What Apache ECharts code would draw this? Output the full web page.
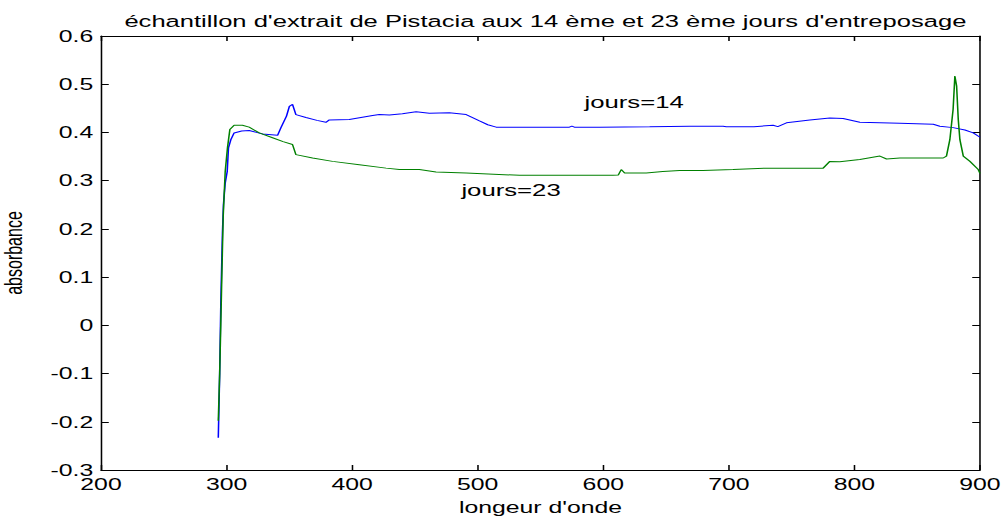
<!DOCTYPE html>
<html>
<head>
<meta charset="utf-8">
<script src="https://cdn.jsdelivr.net/npm/echarts@6/dist/echarts.min.js"></script>
<style>
html,body{margin:0;padding:0;background:#fff;overflow:hidden;width:1004px;height:518px}
#c{width:648px;height:518px;transform:scaleX(1.549383);transform-origin:0 0}
</style>
</head>
<body>
<div id="c"></div>
<script>
const titleText = "échantillon d'extrait de Pistacia aux 14 ème et 23 ème jours d'entreposage";
const xName = "longeur d'onde";
const yName = "absorbance";
const xTicks = [200, 300, 400, 500, 600, 700, 800, 900];
const yTicks = [-0.3, -0.2, -0.1, 0, 0.1, 0.2, 0.3, 0.4, 0.5, 0.6];
const label14 = "jours=14";
const label23 = "jours=23";
const label14Pos = [585, 0.4625];
const label23Pos = [487, 0.2806];

const jours14 = [
[293.4,-0.233],[294.5,-0.10],[295.4,0.046],[296.7,0.191],[297.5,0.25],[298.9,0.295],[300.5,0.319],[301.5,0.368],[303.4,0.385],[306,0.399],[312,0.403],[318,0.404],[328.6,0.397],[340.6,0.394],[343.3,0.410],[347.7,0.434],[350,0.454],[352.5,0.458],[355.2,0.437],[363.2,0.431],[372,0.425],[379.1,0.421],[381.8,0.426],[397.7,0.427],[416.3,0.435],[421.6,0.437],[429.6,0.436],[440,0.439],[450.9,0.443],[461.5,0.440],[477.4,0.441],[490.8,0.437],[501.4,0.424],[508,0.416],[514.7,0.411],[573,0.411],[575,0.413],[577,0.411],[597,0.411],[636.9,0.412],[668.8,0.413],[695.4,0.413],[698,0.412],[720,0.412],[735.2,0.415],[739,0.412],[745.9,0.420],[764.5,0.426],[780.4,0.430],[791,0.429],[804.3,0.421],[836.2,0.419],[862.8,0.417],[868,0.413],[878.6,0.410],[888,0.405],[894.6,0.399],[900,0.390]
];
const jours23 = [
[293.4,-0.198],[294.5,-0.1],[295.4,0.004],[296.2,0.101],[297.3,0.226],[298.9,0.319],[300.7,0.368],[302.6,0.406],[306,0.415],[312.6,0.415],[318,0.411],[326,0.399],[336.6,0.389],[345,0.381],[352.5,0.375],[355.2,0.354],[368.5,0.347],[384.4,0.340],[405.7,0.333],[427,0.326],[437.6,0.323],[453.5,0.323],[466.8,0.318],[490.8,0.316],[533.3,0.311],[607.6,0.311],[612,0.312],[614.3,0.323],[617,0.316],[634.2,0.316],[647.4,0.319],[660.8,0.321],[679.3,0.321],[703.3,0.323],[729.9,0.326],[775.1,0.326],[780.4,0.340],[788.3,0.339],[804.3,0.344],[820.3,0.351],[825.6,0.345],[836.2,0.347],[870.7,0.347],[873.3,0.351],[876,0.385],[878.6,0.448],[880,0.517],[881.4,0.496],[882.7,0.427],[884,0.385],[886.7,0.351],[892,0.340],[898.6,0.323],[900,0.315]
];

const FONT = "'Liberation Sans', Arial, sans-serif";
const chart = echarts.init(document.getElementById('c'), null, {renderer: 'svg'});
const fmtY = v => { const r = Math.round(v * 10) / 10; return r === 0 ? '0' : String(r); };
const axisCommon = {
  type: 'value',
  axisLine: {show: true, onZero: false, lineStyle: {color: '#000', width: 1}},
  axisTick: {show: true, inside: true, length: 5, lineStyle: {color: '#000'}},
  splitLine: {show: false}
};
function textMark(pos, txt) {
  return {
    symbol: 'circle', symbolSize: 0, silent: true,
    data: [{coord: pos, value: txt}],
    label: {show: true, position: 'right', distance: 0, formatter: txt, color: '#000', fontSize: 16.6, fontFamily: FONT}
  };
}
chart.setOption({
  backgroundColor: '#fff',
  animation: false,
  title: {text: titleText, left: 347, textAlign: 'center', top: 8,
    textStyle: {fontSize: 16.5, fontWeight: 'normal', color: '#000', fontFamily: FONT}},
  grid: {left: 65.2, right: 15.5, top: 36, bottom: 48, containLabel: false, outerBoundsMode: 'none'},
  xAxis: [
    Object.assign({}, axisCommon, {min: 200, max: 900, interval: 100, position: 'bottom',
      name: xName, nameLocation: 'middle', nameGap: 29,
      nameTextStyle: {fontSize: 16, color: '#000', fontFamily: FONT},
      axisLabel: {color: '#000', fontSize: 16, fontFamily: FONT, margin: 6, showMinLabel: true, showMaxLabel: true}}),
    Object.assign({}, axisCommon, {min: 200, max: 900, interval: 100, position: 'top', axisLabel: {show: false}})
  ],
  yAxis: [
    Object.assign({}, axisCommon, {min: -0.3, max: 0.6, interval: 0.1, position: 'left',
      name: yName, nameLocation: 'middle', nameGap: 49, nameRotate: 90,
      nameTextStyle: {fontSize: 16, color: '#000', fontFamily: FONT},
      axisLabel: {color: '#000', fontSize: 16, fontFamily: FONT, margin: 5, formatter: fmtY}}),
    Object.assign({}, axisCommon, {min: -0.3, max: 0.6, interval: 0.1, position: 'right', axisLabel: {show: false}})
  ],
  series: [
    {type: 'line', name: label14, data: jours14, showSymbol: false, symbol: 'none',
      lineStyle: {color: '#0000ff', width: 1}, itemStyle: {color: '#0000ff'},
      markPoint: textMark(label14Pos, label14)},
    {type: 'line', name: label23, data: jours23, showSymbol: false, symbol: 'none',
      lineStyle: {color: '#008000', width: 1}, itemStyle: {color: '#008000'},
      markPoint: textMark(label23Pos, label23)}
  ]
});
</script>
</body>
</html>
